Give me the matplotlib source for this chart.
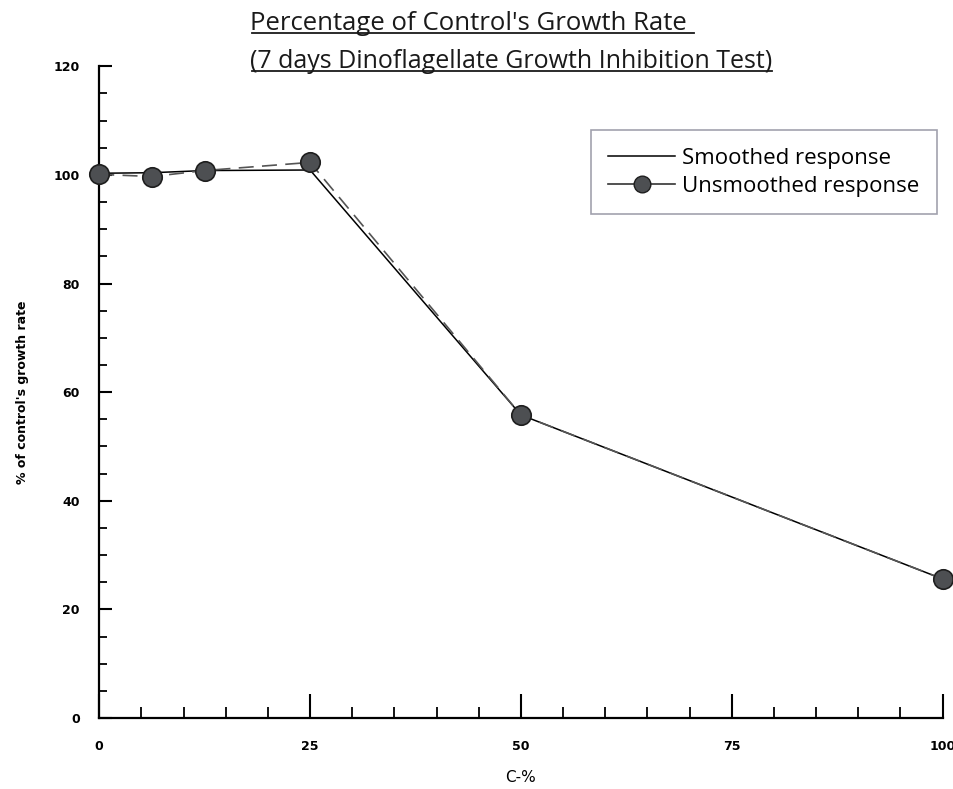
import matplotlib.pyplot as plt
from matplotlib.lines import Line2D
from matplotlib.ticker import MultipleLocator

# concentrations (C-%) and % of control growth rate
conc = [0, 6.25, 12.5, 25, 50, 100]
unsmoothed = [100.1, 99.7, 100.8, 102.3, 55.8, 25.6]
smoothed = [100.3, 100.4, 100.8, 100.9, 55.8, 25.6]

x_ticks = [0, 25, 50, 75, 100]
y_ticks = [0, 20, 40, 60, 80, 100, 120]

title_lines = ["Percentage of Control's Growth Rate",
               "(7 days Dinoflagellate Growth Inhibition Test)"]

fig = plt.figure(figsize=(9.54, 7.89), dpi=100)
ax = fig.add_axes([0.104, 0.09, 0.884, 0.826])

ax.plot(conc, smoothed, color="black", lw=1.1, zorder=2)
ax.plot(conc, unsmoothed, color="#555555", lw=1.2, ls=(0, (9, 5)),
        marker="o", ms=14, mfc="#4d4f52", mec="#1e1e1e", mew=1.2, zorder=3,
        clip_on=False)

ax.set_xlim(0, 100)
ax.set_ylim(0, 120)
for s in ("top", "right"):
    ax.spines[s].set_visible(False)
for s in ("left", "bottom"):
    ax.spines[s].set_linewidth(1.6)

ax.set_xticks(x_ticks)
ax.set_yticks(y_ticks)
ax.xaxis.set_minor_locator(MultipleLocator(5))
ax.yaxis.set_minor_locator(MultipleLocator(5))
ax.tick_params(axis="x", which="major", direction="in", length=17, width=1.5, pad=16,
               labelsize=9)
ax.tick_params(axis="x", which="minor", direction="in", length=8, width=1.3)
ax.tick_params(axis="y", which="major", direction="in", length=9, width=1.5, pad=14,
               labelsize=9)
ax.tick_params(axis="y", which="minor", direction="in", length=6, width=1.3)
for lab in ax.get_xticklabels() + ax.get_yticklabels():
    lab.set_fontweight("bold")
    lab.set_family("DejaVu Sans")

ax.set_xlabel("C-%", fontsize=11, labelpad=12)
ax.set_ylabel("% of control's growth rate", fontsize=9, fontweight="bold", labelpad=18)

# underlined two-line title
fig.canvas.draw()
renderer = fig.canvas.get_renderer()
for line, ypos, size, extra in zip(title_lines, [0.970, 0.922], [18.5, 18], [0.008, 0.0]):
    t = fig.text(0.262, ypos, line, ha="left", va="center", fontsize=size,
                 family="Open Sans", color="#1a1a1a")
    bb = t.get_window_extent(renderer).transformed(fig.transFigure.inverted())
    fig.add_artist(Line2D([bb.x0 + 0.002, bb.x1 + extra], [bb.y0 + 0.004, bb.y0 + 0.004],
                          transform=fig.transFigure, color="#1a1a1a", lw=1.3))

handles = [
    Line2D([], [], color="black", lw=1.1),
    Line2D([], [], color="#333333", lw=1.2, marker="o", ms=12,
           mfc="#4d4f52", mec="#1e1e1e"),
]
leg = ax.legend(handles, ["Smoothed response", "Unsmoothed response"],
                loc="upper right", bbox_to_anchor=(0.993, 0.902),
                prop={"family": "Open Sans", "size": 16}, frameon=True, fancybox=False,
                edgecolor="#8a8a99", handlelength=3.0, handletextpad=0.3,
                borderpad=0.8, labelspacing=0.3, borderaxespad=0)
leg.get_frame().set_linewidth(1.2)

fig.savefig("out.png", dpi=100)
